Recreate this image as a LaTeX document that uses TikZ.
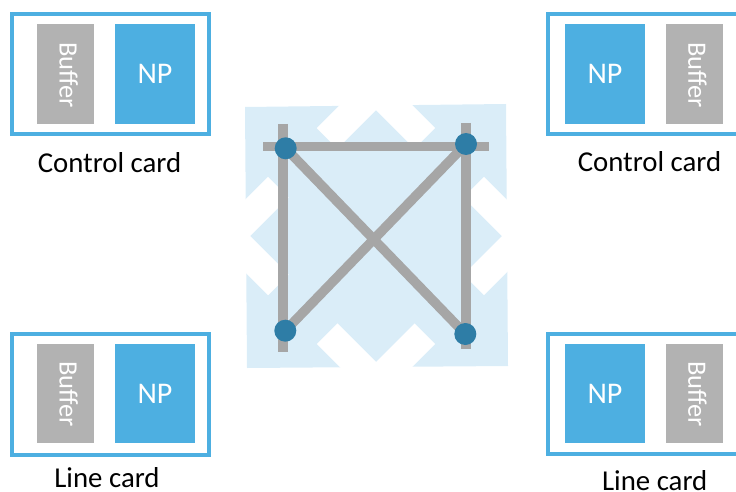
\documentclass[tikz,border=0pt]{standalone}
\usepackage{fontspec}
\setmainfont{Carlito}
\definecolor{cardblue}{RGB}{77,175,225}
\definecolor{bufgray}{RGB}{178,178,178}
\definecolor{bargray}{RGB}{166,166,166}
\definecolor{fabric}{RGB}{218,237,248}
\definecolor{dotblue}{RGB}{46,125,166}
\begin{document}
\begin{tikzpicture}[x=1pt,y=-1pt,
  card/.style={draw=cardblue, line width=4pt, fill=white, minimum width=197pt, minimum height=120pt, inner sep=0pt, outer sep=0pt},
  npbox/.style={fill=cardblue, minimum width=80pt, minimum height=100pt, inner sep=0pt, text=white, font=\fontsize{30}{36}\selectfont},
  bufbox/.style={fill=bufgray, minimum width=57pt, minimum height=100pt, inner sep=0pt},
  buftext/.style={rotate=-90, text=white, inner sep=0pt, font=\fontsize{26.5}{32}\selectfont},
  cardlabel/.style={anchor=base, inner sep=0pt, font=\fontsize{28.8}{34}\selectfont},
  bar/.style={draw=bargray, line width=9.5pt},
  dot/.style={circle, fill=dotblue, minimum size=22pt, inner sep=0pt}]
\useasboundingbox (0,0) rectangle (736,492);

% cards
\node[card] (cardTL) at (110.5,74) {};
\node[bufbox] (bufTL) at (65.5,74) {};
\node[buftext] (bufTLt) at (68.6,75) {Buffer};
\node[npbox] (npTL) at (155,74) {NP};
\node[cardlabel] (labTL) at (109.5,172) {Control card};

\node[card] (cardTR) at (646.5,74) {};
\node[npbox] (npTR) at (605,74) {NP};
\node[bufbox] (bufTR) at (694.5,74) {};
\node[buftext] (bufTRt) at (697.4,75) {Buffer};
\node[cardlabel] (labTR) at (649.5,171.5) {Control card};

\node[card, minimum height=121pt] (cardBL) at (110.5,394.5) {};
\node[bufbox, minimum height=99pt] (bufBL) at (65.5,393.5) {};
\node[buftext] (bufBLt) at (68.6,394) {Buffer};
\node[npbox, minimum height=99pt] (npBL) at (155,393.5) {NP};
\node[cardlabel] (labBL) at (107,487.7) {Line card};

\node[card] (cardBR) at (646.5,394) {};
\node[npbox, minimum height=99pt] (npBR) at (605,393.5) {NP};
\node[bufbox, minimum height=99pt] (bufBR) at (694.5,393.5) {};
\node[buftext] (bufBRt) at (697.4,394) {Buffer};
\node[cardlabel] (labBR) at (654.7,490) {Line card};

% switch fabric background
\fill[fabric] (245,107) -- (506,104) -- (508,366) -- (247,368) -- cycle;
\draw[white, line width=29pt, line join=miter, dash pattern=on 138.1pt off 69.05pt, dash phase=69.05pt]
  (376,89.5) -- (522.5,236) -- (376,382.5) -- (229.5,236) -- cycle;

% bar end points and node positions
\coordinate (t1) at (263,146.5);
\coordinate (t2) at (489,146.5);
\coordinate (l1) at (283,124);
\coordinate (l2) at (283,352);
\coordinate (r1) at (466,123);
\coordinate (r2) at (466,349);
\coordinate (p1) at (285.7,148.3);
\coordinate (p2) at (466,144);
\coordinate (p3) at (285.3,330.7);
\coordinate (p4) at (465.3,334);

\draw[bar] (t1) -- (t2);
\draw[bar] (l1) -- (l2);
\draw[bar] (r1) -- (r2);
\draw[bar] (p1) -- (p4);
\draw[bar] (p2) -- (p3);

\node[dot] (n1) at (p1) {};
\node[dot] (n2) at (p2) {};
\node[dot] (n3) at (p3) {};
\node[dot] (n4) at (p4) {};
\end{tikzpicture}
\end{document}
